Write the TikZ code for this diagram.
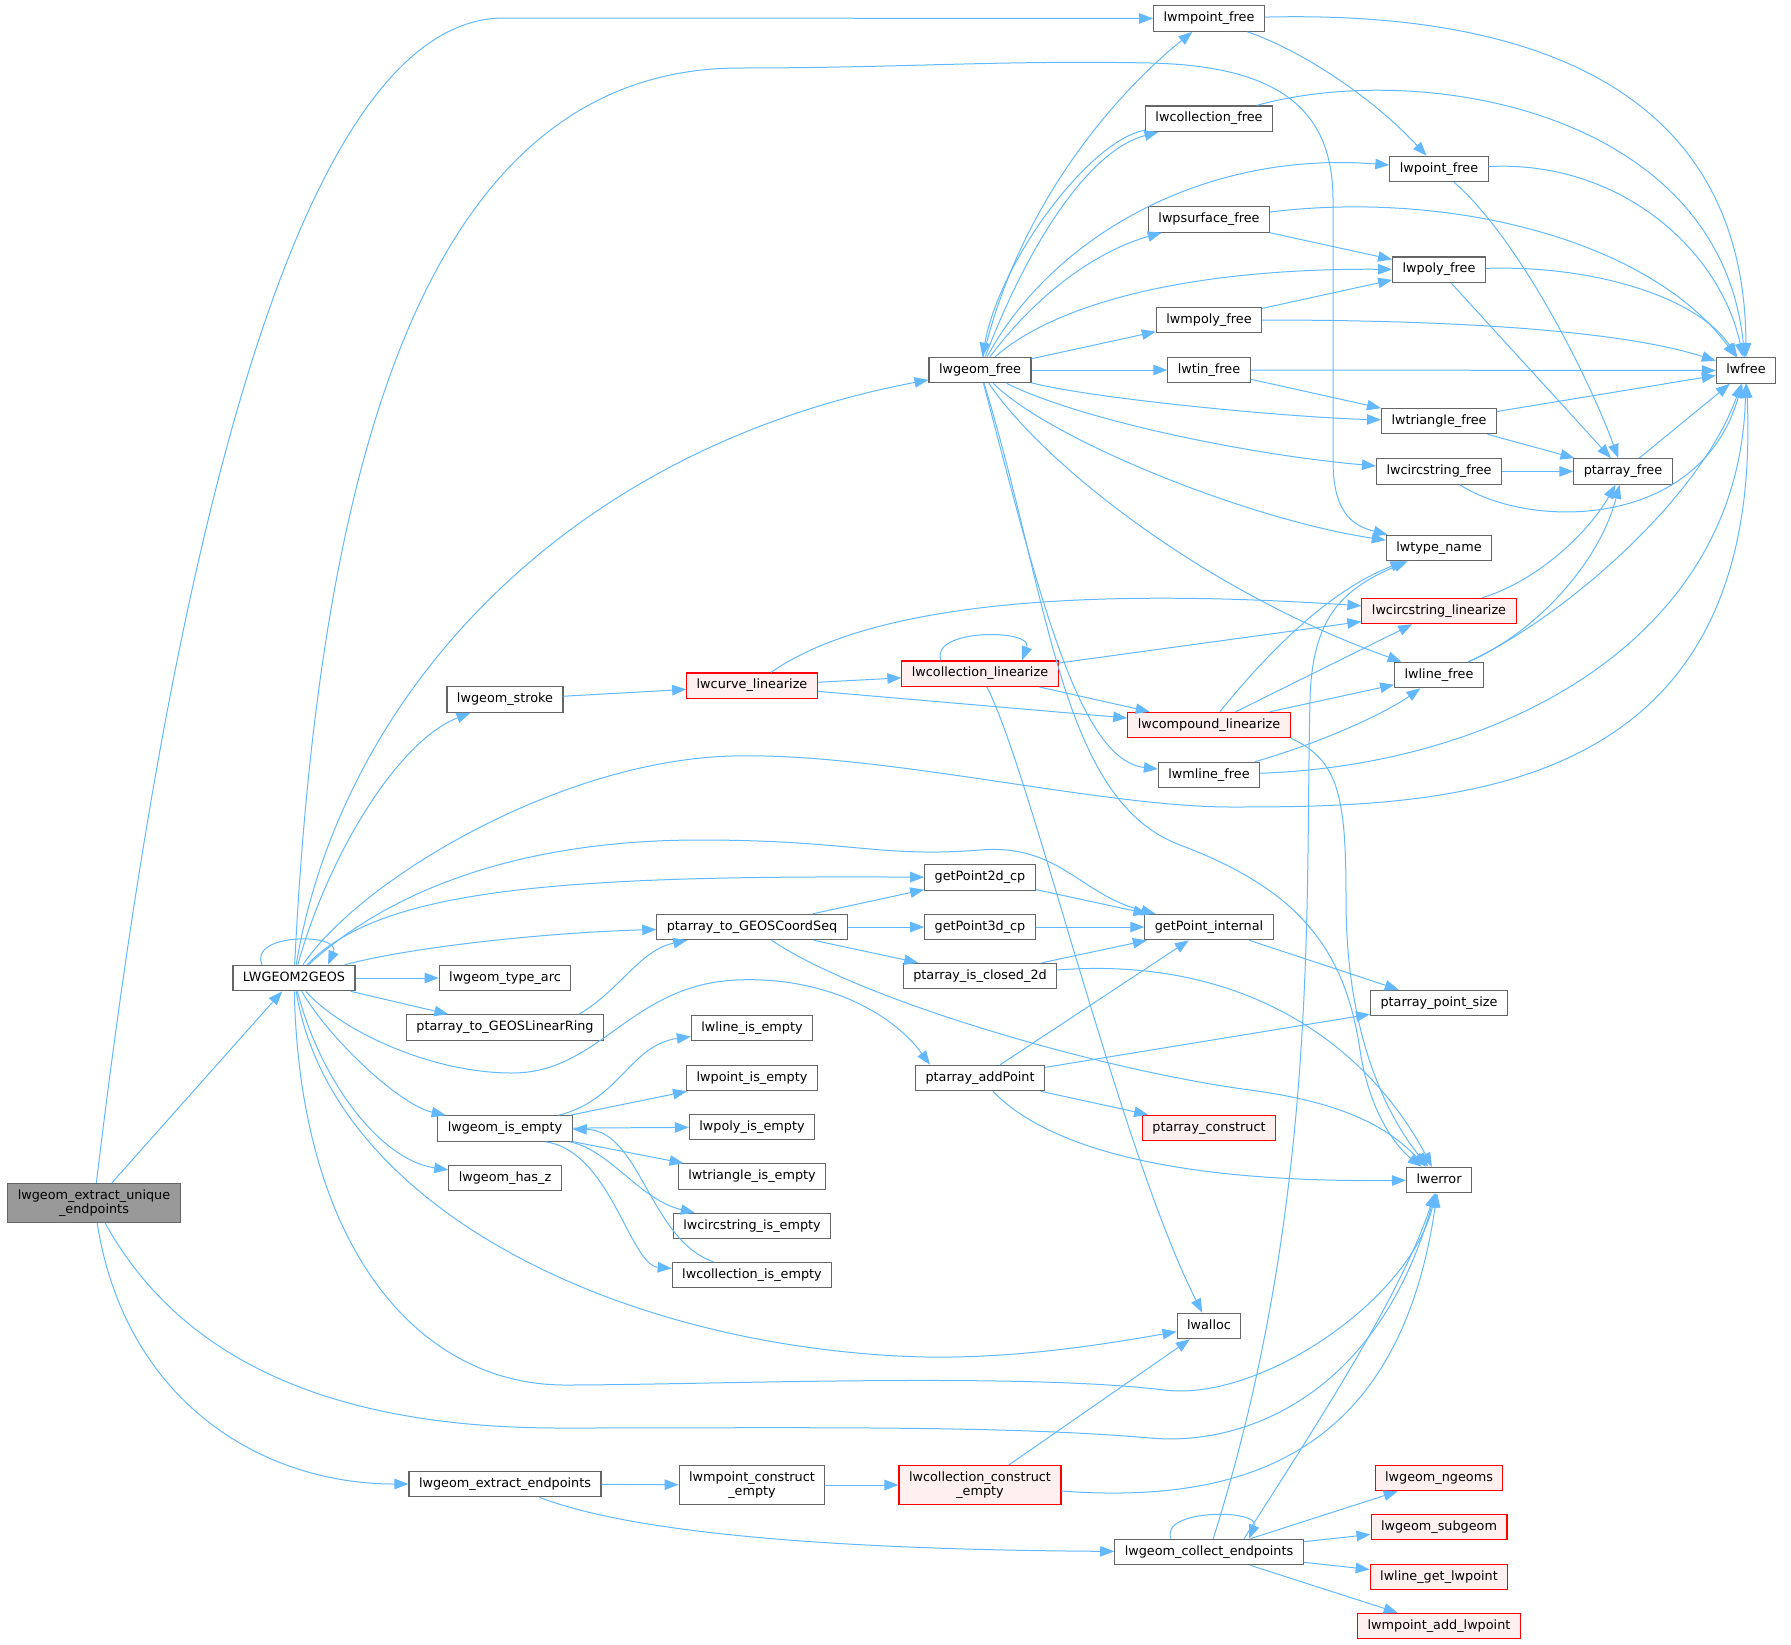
\documentclass[tikz,border=0pt]{standalone}
\usepackage{fontspec}
\setmainfont{DejaVu Sans}
\usepackage{xcolor}
\usepackage{tikz}
\usetikzlibrary{arrows.meta}
\definecolor{edgeblue}{HTML}{63B8FF}
\definecolor{boxgray}{HTML}{666666}
\definecolor{rootgray}{HTML}{999999}
\definecolor{redfill}{HTML}{FFF0F0}

\begin{document}
\begin{tikzpicture}[
  x=1pt, y=-1pt,
  font=\fontsize{12.8}{14}\selectfont,
  fn/.style={draw=boxgray,fill=white,line width=1.1pt,inner xsep=10pt,inner ysep=0pt,minimum height=25.5pt,text height=9.5pt,text depth=3pt},
  fntwo/.style={draw=boxgray,fill=white,line width=1.1pt,inner xsep=10pt,inner ysep=5pt,minimum height=39pt,align=center},
  redbox/.style={draw=red,fill=redfill},
  root/.style={fill=rootgray},
  call/.style={-{Triangle[length=14pt,width=10.5pt]},draw=edgeblue,line width=1pt},
]
\useasboundingbox (0,0) rectangle (1791,1644);

\node[fntwo,root] (eu) at (94,1203) {lwgeom\_extract\_unique\\\_endpoints};
\node[fn] (geos) at (294,978) {LWGEOM2GEOS};
\node[fn] (mpointfree) at (1209,18.5) {lwmpoint\_free};
\node[fn] (lwfree) at (1746,370.5) {lwfree};
\node[fn] (collfree) at (1209,118.7) {lwcollection\_free};
\node[fn] (pointfree) at (1439,169) {lwpoint\_free};
\node[fn] (psurffree) at (1209,219.4) {lwpsurface\_free};
\node[fn] (polyfree) at (1439,269.7) {lwpoly\_free};
\node[fn] (mpolyfree) at (1209,320) {lwmpoly\_free};
\node[fn] (geomfree) at (980,370) {lwgeom\_free};
\node[fn] (tinfree) at (1209,370) {lwtin\_free};
\node[fn] (trifree) at (1439,421) {lwtriangle\_free};
\node[fn] (circfree) at (1439,471.4) {lwcircstring\_free};
\node[fn] (ptfree) at (1623,471.4) {ptarray\_free};
\node[fn] (typename) at (1439,548) {lwtype\_name};
\node[fn,redbox] (circlin) at (1439,611) {lwcircstring\_linearize};
\node[fn] (linefree) at (1439,675) {lwline\_free};
\node[fn,redbox] (colllin) at (980,673.7) {lwcollection\_linearize};
\node[fn,redbox] (curvelin) at (752,685.7) {lwcurve\_linearize};
\node[fn] (stroke) at (505,699.5) {lwgeom\_stroke};
\node[fn,redbox] (complin) at (1209,725) {lwcompound\_linearize};
\node[fn] (mlinefree) at (1209,775) {lwmline\_free};
\node[fn] (gp2d) at (980,877.5) {getPoint2d\_cp};
\node[fn] (gpint) at (1209,927) {getPoint\_internal};
\node[fn] (coordseq) at (752,927) {ptarray\_to\_GEOSCoordSeq};
\node[fn] (gp3d) at (980,927) {getPoint3d\_cp};
\node[fn] (typearc) at (505,978) {lwgeom\_type\_arc};
\node[fn] (closed2d) at (980,976) {ptarray\_is\_closed\_2d};
\node[fn] (ptsize) at (1439,1003) {ptarray\_point\_size};
\node[fn] (linring) at (505,1027.5) {ptarray\_to\_GEOSLinearRing};
\node[fn] (lineempty) at (752,1028) {lwline\_is\_empty};
\node[fn] (pointempty) at (752,1078) {lwpoint\_is\_empty};
\node[fn] (addpoint) at (980,1078) {ptarray\_addPoint};
\node[fn] (geomempty) at (505,1128.5) {lwgeom\_is\_empty};
\node[fn] (polyempty) at (752,1127) {lwpoly\_is\_empty};
\node[fn,redbox] (ptconstruct) at (1209,1128) {ptarray\_construct};
\node[fn] (triempty) at (752,1176.5) {lwtriangle\_is\_empty};
\node[fn] (hasz) at (505,1178) {lwgeom\_has\_z};
\node[fn] (lwerror) at (1439,1180) {lwerror};
\node[fn] (circempty) at (752,1226) {lwcircstring\_is\_empty};
\node[fn] (collempty) at (752,1275) {lwcollection\_is\_empty};
\node[fn] (lwalloc) at (1209,1326) {lwalloc};
\node[fn] (extractend) at (505,1484) {lwgeom\_extract\_endpoints};
\node[fntwo] (mpconstruct) at (752,1485) {lwmpoint\_construct\\\_empty};
\node[fntwo,redbox] (collconstruct) at (980,1485) {lwcollection\_construct\\\_empty};
\node[fn,redbox] (ngeoms) at (1439,1478) {lwgeom\_ngeoms};
\node[fn] (collectend) at (1209,1552) {lwgeom\_collect\_endpoints};
\node[fn,redbox] (subgeom) at (1439,1527) {lwgeom\_subgeom};
\node[fn,redbox] (linegetpt) at (1439,1577) {lwline\_get\_lwpoint};
\node[fn,redbox] (addlwpoint) at (1439,1626) {lwmpoint\_add\_lwpoint};

\draw[call] (eu) .. controls (190,400) and (330,18) .. (504,18) -- (mpointfree);
\draw[call] (eu) -- (geos);
\draw[call] (eu) .. controls (170,1340) and (300,1428) .. (560,1428) .. controls (800,1428) and (1000,1425) .. (1150,1438) .. controls (1250,1447) and (1380,1390) .. (lwerror);
\draw[call] (eu) .. controls (125,1400) and (260,1484) .. (extractend);

\draw[call] ([xshift=-32pt]geos.north) .. controls +(-14,-32) and +(14,-32) .. ([xshift=34pt]geos.north);
\draw[call] (geos) .. controls (320,450) and (430,68) .. (740,68) .. controls (900,68) and (1000,60) .. (1150,63) .. controls (1280,66) and (1333,110) .. (1333,200) -- (1333,460) .. controls (1333,510) and (1350,525) .. (typename);
\draw[call] (geos) .. controls (340,700) and (560,450) .. (geomfree);
\draw[call] (geos) .. controls (330,850) and (400,740) .. (stroke);
\draw[call] (geos) .. controls (360,880) and (560,760) .. (733,756) .. controls (880,752) and (1100,807) .. (1231,807) .. controls (1450,807) and (1765,800) .. (lwfree);
\draw[call] (geos) .. controls (390,890) and (520,840) .. (700,840) .. controls (850,840) and (880,858) .. (980,850) .. controls (1060,843.6) and (1080,895) .. (gpint);
\draw[call] (geos) .. controls (380,890) and (550,875) .. (gp2d);
\draw[call] (geos) .. controls (420,945) and (560,932) .. (coordseq);
\draw[call] (geos) -- (typearc);
\draw[call] (geos) -- (linring);
\draw[call] (geos) .. controls (340,1030) and (430,1073) .. (512,1073) .. controls (600,1073) and (630,985) .. (736,980) .. controls (820,976) and (890,1010) .. ([xshift=-50pt]addpoint.north);
\draw[call] (geos) .. controls (330,1040) and (400,1105) .. (geomempty);
\draw[call] (geos) .. controls (320,1080) and (380,1160) .. (hasz);
\draw[call] (geos) .. controls (330,1200) and (600,1340) .. (898,1356) .. controls (1000,1361.5) and (1100,1345) .. (lwalloc);
\draw[call] (geos) .. controls (300,1250) and (420,1385) .. (565,1385) .. controls (700,1385) and (1020,1372) .. (1164,1390) .. controls (1260,1402) and (1410,1300) .. (lwerror);

\draw[call] (mpointfree) .. controls (1550,10) and (1745,100) .. (lwfree);
\draw[call] (mpointfree) .. controls (1300,50) and (1370,95) .. (pointfree);

\draw[call] (geomfree) .. controls (1020,200) and (1120,90) .. (mpointfree);
\draw[call] (geomfree) .. controls (1030,240) and (1090,150) .. (collfree);
\draw[call] (collfree) .. controls (1090,140) and (1000,260) .. (geomfree);
\draw[call] (geomfree) .. controls (1050,240) and (1200,150) .. (pointfree);
\draw[call] (geomfree) .. controls (1040,290) and (1100,250) .. (psurffree);
\draw[call] (geomfree) .. controls (1060,300) and (1200,268) .. (polyfree);
\draw[call] (geomfree) -- (mpolyfree);
\draw[call] (geomfree) -- (tinfree);
\draw[call] (geomfree) .. controls (1100,400) and (1300,418) .. (trifree);
\draw[call] (geomfree) .. controls (1080,420) and (1250,455) .. (circfree);
\draw[call] (geomfree) .. controls (1050,440) and (1250,520) .. (typename);
\draw[call] (geomfree) .. controls (1040,460) and (1200,590) .. (linefree);
\draw[call] (geomfree) .. controls (1040,600) and (1080,760) .. (mlinefree);
\draw[call] (geomfree) .. controls (1050,600) and (1060,800) .. (1180,845) .. controls (1300,890) and (1345,950) .. (1360,1050) .. controls (1370,1117) and (1400,1150) .. (lwerror);

\draw[call] (collfree) .. controls (1420,60) and (1720,110) .. (lwfree);
\draw[call] (pointfree) .. controls (1620,160) and (1720,250) .. (lwfree);
\draw[call] (pointfree) .. controls (1520,240) and (1590,380) .. (ptfree);
\draw[call] (psurffree) -- (polyfree);
\draw[call] (psurffree) .. controls (1450,190) and (1650,240) .. (lwfree);
\draw[call] (polyfree) .. controls (1600,265) and (1700,300) .. (lwfree);
\draw[call] (polyfree) -- (ptfree);
\draw[call] (mpolyfree) -- (polyfree);
\draw[call] (mpolyfree) .. controls (1450,320) and (1620,330) .. (lwfree);
\draw[call] (tinfree) -- (lwfree);
\draw[call] (tinfree) -- (trifree);
\draw[call] (trifree) -- (lwfree);
\draw[call] (trifree) -- (ptfree);
\draw[call] (circfree) -- (ptfree);
\draw[call] (circfree) .. controls (1530,530) and (1700,530) .. (lwfree);
\draw[call] (ptfree) -- (lwfree);
\draw[call] (circlin) .. controls (1540,580) and (1590,530) .. (ptfree);
\draw[call] (linefree) .. controls (1540,630) and (1600,560) .. (ptfree);
\draw[call] (linefree) .. controls (1560,620) and (1700,500) .. (lwfree);
\draw[call] (mlinefree) .. controls (1330,740) and (1390,710) .. (linefree);
\draw[call] (mlinefree) .. controls (1500,765) and (1740,640) .. (lwfree);

\draw[call] (stroke) -- (curvelin);
\draw[call] (curvelin) .. controls (860,610) and (1050,585) .. (circlin);
\draw[call] (curvelin) -- (colllin);
\draw[call] (curvelin) -- (complin);
\draw[call] ([xshift=-39pt]colllin.north) .. controls +(-12,-32) and +(12,-32) .. ([xshift=42pt]colllin.north);
\draw[call] (colllin) -- (circlin);
\draw[call] (colllin) -- (complin);
\draw[call] (colllin) .. controls (1030,770) and (1120,1150) .. (lwalloc);
\draw[call] (complin) .. controls (1270,650) and (1330,590) .. (typename);
\draw[call] (complin) -- (circlin);
\draw[call] (complin) -- (linefree);
\draw[call] (complin.south east) .. controls (1340,760) and (1346,800) .. (1346,900) .. controls (1346,1040) and (1390,1120) .. (lwerror);

\draw[call] (coordseq) -- (gp2d);
\draw[call] (coordseq) -- (gp3d);
\draw[call] (coordseq) -- (closed2d);
\draw[call] (coordseq) .. controls (860,1000) and (1100,1070) .. (1250,1090) .. controls (1350,1103.3) and (1390,1130) .. (lwerror);
\draw[call] (gp2d) -- (gpint);
\draw[call] (gp3d) -- (gpint);
\draw[call] (closed2d) -- (gpint);
\draw[call] (closed2d) .. controls (1250,955) and (1370,1050) .. (lwerror);
\draw[call] (gpint) -- (ptsize);
\draw[call] ([xshift=-25pt]linring.north east) .. controls (620,990) and (640,950) .. (coordseq);
\draw[call] (addpoint) -- (gpint);
\draw[call] (addpoint) -- (ptsize);
\draw[call] (addpoint) -- (ptconstruct);
\draw[call] (addpoint) .. controls (1040,1140) and (1150,1183) .. (lwerror);

\draw[call] (geomempty) .. controls (620,1100) and (630,1045) .. (lineempty);
\draw[call] (geomempty) -- (pointempty);
\draw[call] (geomempty) -- (polyempty);
\draw[call] (geomempty) -- (triempty);
\draw[call] (geomempty) .. controls (610,1150) and (640,1200) .. (circempty);
\draw[call] ([xshift=40pt]geomempty.south) .. controls (610,1150) and (630,1265) .. (collempty);
\draw[call] (collempty) .. controls (650,1240) and (640,1130) .. (geomempty);

\draw[call] (extractend) -- (mpconstruct);
\draw[call] (extractend) .. controls (650,1540) and (900,1550) .. (collectend);
\draw[call] (mpconstruct) -- (collconstruct);
\draw[call] (collconstruct) -- (lwalloc);
\draw[call] (collconstruct) .. controls (1250,1505) and (1400,1450) .. (lwerror);
\draw[call] ([xshift=-38pt]collectend.north) .. controls +(-12,-30) and +(12,-30) .. ([xshift=40pt]collectend.north);
\draw[call] (collectend) .. controls (1320,1200) and (1305,900) .. (1310,700) .. controls (1312,620) and (1340,590) .. (typename);
\draw[call] ([xshift=35pt]collectend.north) .. controls (1300,1450) and (1400,1300) .. (lwerror);
\draw[call] (collectend) -- (ngeoms);
\draw[call] (collectend) -- (subgeom);
\draw[call] (collectend) -- (linegetpt);
\draw[call] (collectend) -- (addlwpoint);
\end{tikzpicture}
\end{document}
